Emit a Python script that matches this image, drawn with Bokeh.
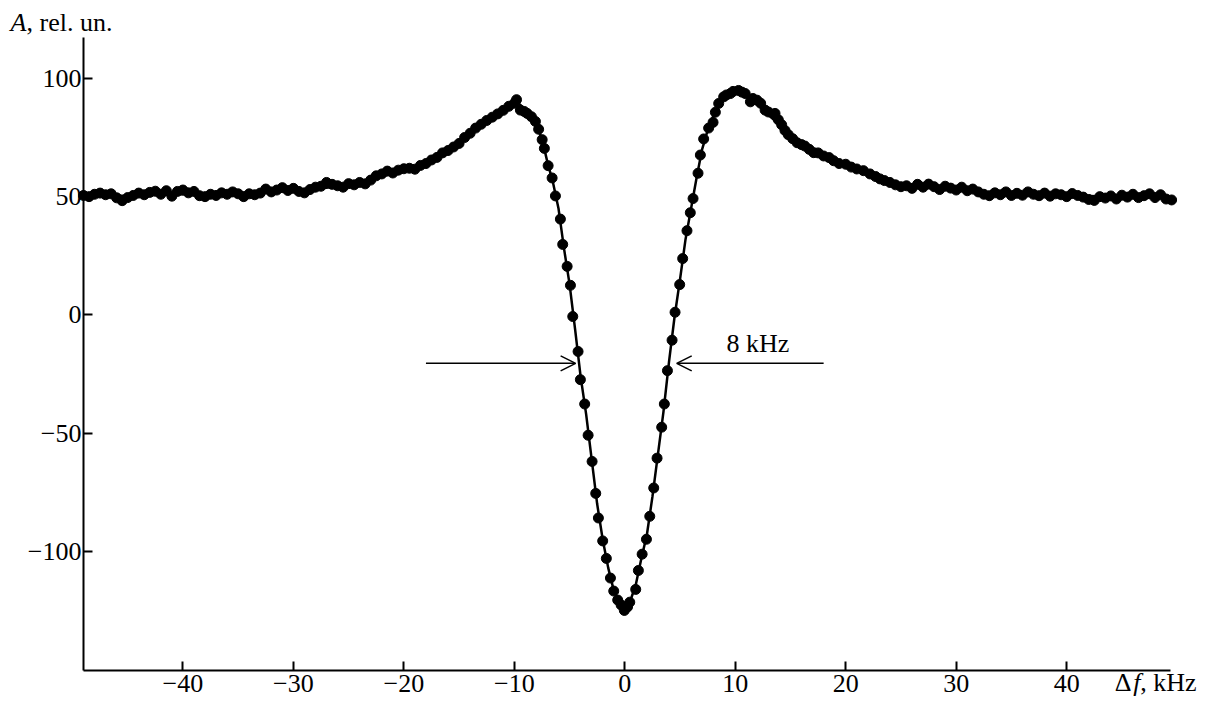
from bokeh.plotting import figure
from bokeh.models import Range1d, Label, Arrow, OpenHead, FixedTicker
from bokeh.embed import file_html
from bokeh.resources import INLINE

# ---------------- data ----------------
# measured points (dots)
dot_x_left = [-49.0, -48.5, -48.0, -47.5, -47.0, -46.5, -46.0, -45.5, -45.0, -44.5,
              -44.0, -43.5, -43.0, -42.5, -42.0, -41.5, -41.0, -40.5, -40.0, -39.5,
              -39.0, -38.5, -38.0, -37.5, -37.0, -36.5, -36.0, -35.5, -35.0, -34.5,
              -34.0, -33.5, -33.0, -32.5, -32.0, -31.5, -31.0, -30.5, -30.0, -29.5,
              -29.0, -28.5, -28.0, -27.5, -27.0, -26.5, -26.0, -25.5, -25.0, -24.5,
              -24.0, -23.5, -23.0, -22.5, -22.0, -21.5, -21.0, -20.5, -20.0, -19.5,
              -19.0, -18.5, -18.0, -17.5, -17.0, -16.5, -16.0, -15.5, -15.0, -14.5,
              -14.0, -13.5, -13.0, -12.5, -12.0, -11.5, -11.0, -10.5, -10.0, -9.8]
dot_y_left = [50.5, 50.0, 51.0, 51.5, 50.8, 51.2, 49.5, 48.3, 49.6, 50.5,
              51.5, 50.8, 51.8, 52.3, 51.0, 52.5, 50.2, 52.2, 52.8, 51.6,
              52.2, 50.4, 50.0, 51.0, 50.5, 51.6, 51.0, 52.0, 51.2, 50.0,
              51.2, 50.8, 51.5, 53.2, 52.0, 52.8, 53.8, 52.6, 53.5, 52.2,
              51.6, 53.0, 54.0, 54.4, 56.0, 55.2, 54.6, 54.0, 55.5, 55.0,
              56.0, 55.4, 57.0, 58.8, 59.6, 60.8, 60.0, 61.2, 61.8, 62.0,
              61.6, 63.2, 64.0, 65.5, 66.6, 68.5, 69.5, 71.0, 72.5, 75.0,
              76.8, 79.0, 80.6, 82.2, 83.6, 85.0, 86.5, 88.2, 89.5, 91.0]

dot_x_dip = [-9.45, -9.1, -8.84, -8.45, -8.09, -7.8, -7.48, -7.28, -6.94, -6.58, -6.28,
             -5.83, -5.62, -5.22, -4.92, -4.71, -4.23, -4.02, -3.63, -3.32, -2.96,
             -2.63, -2.39, -2.0, -1.67, -1.3, -1.0, -0.64, -0.33, -0.04,
             0.25, 0.45, 0.99, 1.23, 1.57, 1.96, 2.26, 2.62, 2.92, 3.34, 3.58,
             3.86, 4.28, 4.55, 4.97, 5.24, 5.63, 5.93, 6.18]
dot_y_dip = [86.6, 86.0, 85.2, 83.8, 81.8, 78.5, 74.1, 70.4, 63.1, 57.9, 50.3,
             40.5, 29.8, 20.5, 12.5, -0.7, -15.5, -27.4, -37.7, -50.9, -62.0,
             -75.5, -85.9, -95.6, -103.0, -111.3, -116.8, -120.6, -122.7, -125.0,
             -123.5, -121.5, -116.1, -108.1, -101.2, -94.9, -85.2, -73.2, -60.6, -47.5, -37.7,
             -23.6, -10.7, 1.1, 12.8, 23.8, 35.6, 43.2, 49.2]

dot_x_right = [6.63, 6.84, 7.14, 7.59, 7.99, 8.2, 8.5, 8.95, 9.2, 9.56, 9.8,
               10.3, 10.6, 10.9, 11.37, 11.6, 11.97, 12.3, 12.7, 13.0, 13.6, 13.9,
               14.2, 14.5, 14.8, 15.2, 15.6, 16.0, 16.3, 16.7, 17.1, 17.5, 18.0,
               18.5, 18.9, 19.4, 20.0, 20.5, 21.0, 21.6, 22.2, 22.7, 23.1,
               23.5, 24.0, 24.5, 25.0, 25.5, 26.0, 26.5, 27.0, 27.5, 28.0,
               28.5, 29.0, 29.5, 30.0, 30.5, 31.0, 31.5, 32.0, 32.5, 33.0,
               33.5, 34.0, 34.5, 35.0, 35.5, 36.0, 36.5, 37.0, 37.5, 38.0,
               38.5, 39.0, 39.5, 40.0, 40.5, 41.0, 41.5, 42.0, 42.5, 43.0,
               43.5, 44.0, 44.5, 45.0, 45.5, 46.0, 46.5, 47.0, 47.5, 48.0,
               48.5, 49.0, 49.5]
dot_y_right = [59.9, 67.6, 74.4, 79.0, 81.4, 85.7, 89.4, 92.2, 93.0, 93.6, 94.5,
               94.9, 94.2, 93.6, 90.1, 91.5, 90.8, 89.5, 86.6, 85.8, 85.2, 82.5,
               80.4, 78.0, 76.2, 74.5, 72.8, 72.0, 71.4, 70.0, 68.6, 68.5, 67.2,
               66.5, 65.2, 64.0, 63.7, 62.5, 61.7, 61.0, 59.6, 58.5, 57.5,
               56.8, 56.0, 55.0, 54.2, 54.6, 53.5, 55.2, 54.0, 55.3, 54.2,
               53.0, 54.4, 53.6, 52.8, 54.0, 52.5, 53.2, 52.0, 51.0, 50.4,
               51.6, 50.8, 52.0, 50.5, 51.4, 50.6, 52.0, 51.0, 50.4, 51.5,
               50.2, 51.2, 50.8, 50.0, 51.3, 50.5, 49.8, 48.8, 48.4, 50.0,
               49.4, 50.3, 49.0, 50.6, 49.8, 51.0, 49.6, 50.4, 51.2, 49.6,
               50.8, 49.0, 48.6]

# fitted curve
fit_x = [-49, -45, -40, -35, -30, -27, -25, -23, -21, -19, -17, -15, -13, -12, -11,
         -10.5, -10, -9.5, -9, -8.5, -8, -7.5, -7, -6.5, -6, -5.5, -5, -4.5, -4,
         -3.5, -3, -2.5, -2, -1.5, -1, -0.5, 0, 0.5, 1, 1.5, 2, 2.5, 3, 3.5, 4,
         4.5, 5, 5.5, 6, 6.5, 7, 7.5, 8, 8.5, 9, 9.5, 10, 10.5, 11, 12, 13, 14,
         15, 17, 19, 21, 23, 25, 28, 31, 35, 40, 45, 49.5]
fit_y = [50.2, 50.5, 51.0, 51.5, 52.5, 53.8, 55.0, 57.0, 60.0, 62.8, 67.0, 72.5, 80.0, 84.0, 87.5,
         89.0, 89.8, 89.0, 86.5, 83.5, 80.0, 74.5, 64.5, 56.0, 45.0, 28.0, 13.0, -6.0, -26.0,
         -42.0, -61.0, -80.0, -95.0, -107.0, -116.5, -122.0, -124.5, -121.0, -114.0, -103.0, -93.0, -77.0, -59.0, -41.0, -20.0,
         -1.0, 15.0, 32.0, 45.0, 58.0, 70.0, 78.0, 84.0, 88.5, 91.5, 93.5, 94.3, 94.3, 92.5, 89.0, 84.5, 80.5,
         75.0, 69.0, 65.0, 61.5, 58.0, 55.5, 54.0, 52.5, 51.0, 50.5, 50.0, 49.5]

x_ticks = [-40, -30, -20, -10, 0, 10, 20, 30, 40]
x_tick_labels = ["\u221240", "\u221230", "\u221220", "\u221210", "0", "10", "20", "30", "40"]
y_ticks = [-100, -50, 0, 50, 100]
y_tick_labels = ["\u2212100", "\u221250", "0", "50", "100"]

dot_x = dot_x_left + dot_x_dip + dot_x_right
dot_y = dot_y_left + dot_y_dip + dot_y_right

# ---------------- layout ----------------
W, H = 1197, 697
X0, X1 = -49.0, 49.4          # axis extent (kHz)
Y0, Y1 = -150.4, 117.3        # axis extent (rel. un.)
AX_L, AX_R = 83, 1170         # pixel columns of the x extent
AX_T, AX_B = 37, 670          # pixel rows of the y extent
sx = (AX_R - AX_L) / (X1 - X0)
sy = (AX_B - AX_T) / (Y1 - Y0)
x_range = Range1d(X0 - AX_L / sx, X1 + (W - AX_R) / sx)
y_range = Range1d(Y0 - (H - AX_B) / sy, Y1 + AX_T / sy)

FONT = "Liberation Serif"
FS = "26px"

p = figure(width=W, height=H, x_range=x_range, y_range=y_range,
           output_backend="svg", toolbar_location=None, min_border=0,
           min_border_left=0, min_border_right=0, min_border_top=0, min_border_bottom=0)
p.xgrid.visible = False
p.ygrid.visible = False
p.outline_line_color = None
p.background_fill_color = "white"
p.border_fill_color = "white"

for ax in (p.xaxis[0], p.yaxis[0]):
    ax.axis_line_width = 2
    ax.axis_line_color = "black"
    ax.major_tick_line_width = 2
    ax.major_tick_line_color = "black"
    ax.major_tick_in = 9
    ax.major_tick_out = 0
    ax.minor_tick_in = 0
    ax.minor_tick_out = 0
    ax.major_label_text_font = FONT
    ax.major_label_text_font_size = FS
    ax.major_label_text_color = "black"

p.xaxis.fixed_location = Y0
p.xaxis.bounds = (X0, X1)
p.xaxis.ticker = FixedTicker(ticks=x_ticks)
p.xaxis.major_label_overrides = dict(zip(x_ticks, x_tick_labels))
p.xaxis.major_label_standoff = 4
p.yaxis.fixed_location = X0
p.yaxis.bounds = (Y0, Y1)
p.yaxis.ticker = FixedTicker(ticks=y_ticks)
p.yaxis.major_label_overrides = dict(zip(y_ticks, y_tick_labels))
p.yaxis.major_label_standoff = 2

p.line(fit_x, fit_y, line_width=2.5, line_color="black")
p.scatter(dot_x, dot_y, size=10, fill_color="black", line_color="black")

# width markers
ARROW_Y = -20.5
head = dict(size=15, line_width=1.5, line_color="black")
p.add_layout(Arrow(end=OpenHead(**head), x_start=-18.0, y_start=ARROW_Y, x_end=-4.45, y_end=ARROW_Y,
                   line_width=1.5, line_color="black"))
p.add_layout(Arrow(end=OpenHead(**head), x_start=18.0, y_start=ARROW_Y, x_end=4.7, y_end=ARROW_Y,
                   line_width=1.5, line_color="black"))
p.add_layout(Label(x=12.05, y=ARROW_Y, y_offset=20, text="8 kHz", text_align="center",
                   text_baseline="alphabetic", text_font=FONT, text_font_size=FS, text_color="black"))

# axis titles
lab = dict(text_font=FONT, text_font_size=FS, text_baseline="alphabetic", text_color="black")
p.add_layout(Label(x=X0, y=Y1, x_offset=-73, y_offset=15, text="A", text_font_style="italic",
                   text_align="left", **lab))
p.add_layout(Label(x=X0, y=Y1, x_offset=-57, y_offset=15, text=", rel. un.", text_align="left", **lab))

p.add_layout(Label(x=X1, y=Y0, x_offset=26, y_offset=-12, text=", kHz", text_align="right", **lab))
p.add_layout(Label(x=X1, y=Y0, x_offset=-30, y_offset=-12, text="f", text_font_style="italic",
                   text_align="right", **lab))
p.add_layout(Label(x=X1, y=Y0, x_offset=-39, y_offset=-12, text="\u0394", text_align="right", **lab))

open("out.html", "w").write(file_html(p, INLINE))
